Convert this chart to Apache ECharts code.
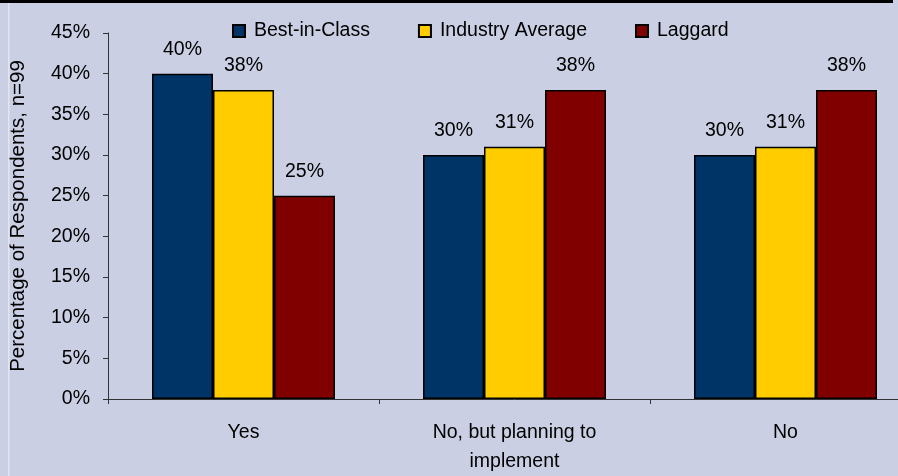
<!DOCTYPE html>
<html>
<head>
<meta charset="utf-8">
<script src="https://cdn.jsdelivr.net/npm/echarts@6/dist/echarts.min.js"></script>
<style>html,body{margin:0;padding:0;background:#CACFE3;overflow:hidden;width:898px;height:476px;}#c{width:930px;height:476px;}</style>
</head>
<body>
<div id="c"></div>
<script>
const categories = ["Yes", "No, but planning to\nimplement", "No"];
const seriesNames = ["Best-in-Class", "Industry Average", "Laggard"];
const bestInClass = [40, 30, 30];
const industryAverage = [38, 31, 31];
const laggard = [25, 38, 38];
const yTicks = { min: 0, max: 45, interval: 5 };
const colors = ["#003366", "#FFCC00", "#800000"];

const chart = echarts.init(document.getElementById('c'), null, { renderer: 'canvas' });
const font = 'Liberation Sans, Arial, sans-serif';
const values = [bestInClass, industryAverage, laggard];
const series = seriesNames.map((n, i) => ({
  name: n,
  type: 'bar',
  data: values[i],
  barWidth: 61,
  barGap: '0%',
  itemStyle: { color: colors[i], borderColor: '#000', borderWidth: 1.5 },
  label: { show: true, position: 'top', distance: 14, formatter: '{c}%', color: '#000', fontSize: 19.5, fontFamily: font },
  emphasis: { disabled: true }
}));

chart.setOption({
  backgroundColor: '#CACFE3',
  animation: false,
  textStyle: { fontFamily: font },
  graphic: [
    { type: 'rect', shape: { x: 0, y: 0, width: 893, height: 3 }, style: { fill: '#000' }, z: 100 },
    { type: 'rect', shape: { x: 8, y: 3, width: 1.5, height: 473 }, style: { fill: '#E2E5EF' }, z: 100 }
  ],
  legend: {
    left: 227, top: 16,
    icon: 'rect',
    itemWidth: 12, itemHeight: 12, itemGap: 48,
    textStyle: { fontSize: 19.5, color: '#000', fontFamily: font, padding: [0, 0, 0, 4] },
    data: seriesNames
  },
  grid: { left: 108, top: 33, width: 813, height: 366, containLabel: false },
  xAxis: {
    type: 'category',
    data: categories,
    axisLine: { lineStyle: { color: '#333', width: 1 } },
    axisTick: { show: true, length: 5, lineStyle: { color: '#333' } },
    axisLabel: { fontSize: 19.5, color: '#000', margin: 19, lineHeight: 29, fontFamily: font }
  },
  yAxis: {
    type: 'value',
    min: yTicks.min, max: yTicks.max, interval: yTicks.interval,
    name: 'Percentage of Respondents, n=99',
    nameLocation: 'middle', nameGap: 79, nameRotate: 90,
    nameTextStyle: { fontSize: 20.5, color: '#000', fontFamily: font },
    axisLine: { show: true, lineStyle: { color: '#333', width: 1 } },
    axisTick: { show: true, length: 5, lineStyle: { color: '#333' } },
    splitLine: { show: false },
    axisLabel: { formatter: '{value}%', fontSize: 19.5, color: '#000', margin: 18, fontFamily: font }
  },
  series: series
});
</script>
</body>
</html>
